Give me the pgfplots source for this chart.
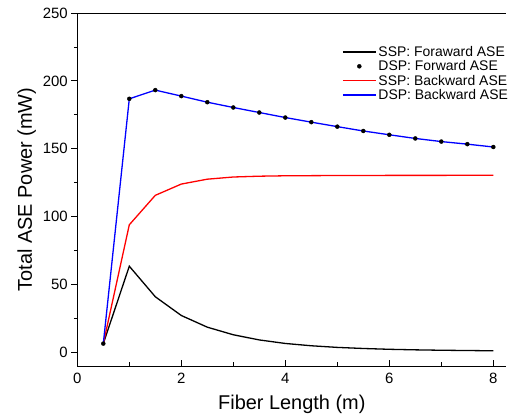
\documentclass[border=0pt]{standalone}
\usepackage{fontspec}
\setmainfont{Liberation Sans}
\usepackage{pgfplots}
\pgfplotsset{compat=1.18}
\usetikzlibrary{calc}

\pgfplotstableread{
x ssf ssb dsp
0.5 6.5 6.5 6.5
1.0 63.5 94.0 186.8
1.5 41.0 115.7 193.2
2.0 27.2 124.0 188.8
2.5 18.6 127.6 184.3
3.0 13.0 129.2 180.4
3.5 9.2 129.8 176.7
4.0 6.6 130.1 173.0
4.5 4.9 130.2 169.6
5.0 3.7 130.3 166.3
5.5 2.9 130.3 163.1
6.0 2.3 130.4 160.3
6.5 1.9 130.4 157.6
7.0 1.6 130.4 155.3
7.5 1.4 130.5 153.4
8.0 1.2 130.5 151.3
}\datatable

\begin{document}
\begin{tikzpicture}
\begin{axis}[
  set layers,
  scale only axis, width=429bp, height=353bp,
  xmin=0, xmax=8.25, ymin=-10, ymax=250,
  axis x line*=box, axis y line*=left,
  axis line style={-, line width=0.8bp},
  xtick={0,2,4,6,8}, ytick={0,50,100,150,200,250},
  minor x tick num=1, minor y tick num=1,
  xtick pos=left, ytick pos=left,
  xtick align=inside, ytick align=outside,
  major tick length=6bp, minor tick length=3.5bp,
  every tick/.style={black, line width=0.8bp},
  /pgf/number format/assume math mode=true,
  tick label style={font=\fontsize{15}{18}\selectfont},
  xticklabel style={yshift=-4bp},
  xlabel={Fiber Length (m)}, ylabel={Total ASE Power (mW)},
  label style={font=\fontsize{20}{24}\selectfont},
  xlabel style={yshift=-4bp},
  legend image post style={xscale=1.94, every mark/.append style={xscale=0.515}},
  legend style={at={(rel axis cs:0.61,0.918)}, anchor=north west, draw=none, fill=none,
    font=\fontsize{14}{16}\selectfont, row sep=-1.2bp,
    cells={anchor=west}},
  legend cell align=left,
]
\addplot[black, line width=1.3bp] table[x=x, y=ssf] {\datatable};
\addlegendentry{SSP: Foraward ASE}
\addplot[black, only marks, mark=*, mark size=2bp, on layer=axis foreground] table[x=x, y=dsp] {\datatable};
\addlegendentry{DSP: Forward ASE}
\addplot[red, line width=1.3bp] table[x=x, y=ssb] {\datatable};
\addlegendentry{SSP: Backward ASE}
\addplot[blue, line width=1.3bp] table[x=x, y=dsp] {\datatable};
\addlegendentry{DSP: Backward ASE}
\end{axis}
\pgfresetboundingbox
\path[use as bounding box] ($(current axis.south west)+(-77.3bp,-54bp)$) rectangle ($(current axis.south west)+(434.7bp,366bp)$);
\end{tikzpicture}
\end{document}
